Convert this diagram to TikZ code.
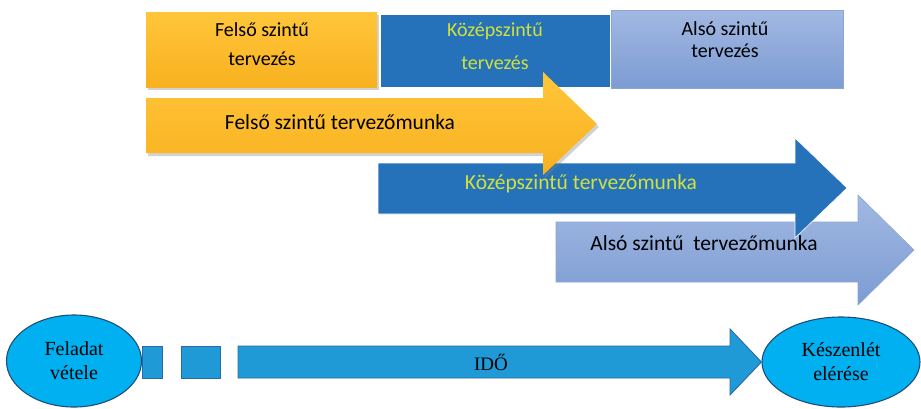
\documentclass[tikz,border=0pt]{standalone}
\usepackage{fontspec}
\setmainfont{Liberation Serif}
\newfontfamily\calfont{Carlito}
\usetikzlibrary{shadows,shapes.geometric}
\definecolor{goldTop}{HTML}{FFC63A}
\definecolor{goldBot}{HTML}{F8B11F}
\definecolor{midBlue}{HTML}{2672BA}
\definecolor{midText}{HTML}{D0E13C}
\definecolor{lowTop}{HTML}{A2B8E2}
\definecolor{lowBot}{HTML}{7C9CD3}
\definecolor{lowEdge}{HTML}{8AA6D8}
\definecolor{ellFill}{HTML}{00B0F0}
\definecolor{ellEdge}{HTML}{1F4E79}
\definecolor{timeFill}{HTML}{1F9AD6}
\definecolor{timeEdge}{HTML}{2A6AA6}
\tikzset{
  pBox/.style={line width=.6pt,inner sep=0pt,align=center},
  pGold/.style={pBox,draw=none,top color=goldTop,bottom color=goldBot,
        drop shadow={shadow xshift=2pt,shadow yshift=-3pt,opacity=.35}},
  pMid/.style={pBox,draw=white,fill=midBlue},
  pLow/.style={pBox,draw=lowEdge,top color=lowTop,bottom color=lowBot},
  pBoxText/.style={font=\calfont\fontsize{20}{29}\selectfont,align=center,inner sep=0pt},
  pArrowText/.style={font=\calfont\fontsize{21.5}{25}\selectfont,inner sep=0pt},
  pEll/.style={ellipse,draw=ellEdge,line width=1.1pt,fill=ellFill,inner sep=0pt,
        align=center,font=\fontsize{20}{24}\selectfont},
  pTime/.style={draw=timeEdge,line width=.9pt,fill=timeFill},
}
\begin{document}
\begin{tikzpicture}[x=1pt,y=-1pt]
\useasboundingbox[fill=white] (0,0) rectangle (921,408);

% planning levels
\node[pGold,minimum width=231pt,minimum height=75pt] (fBox) at (261.5,49.5) {};
\node[pMid,minimum width=230pt,minimum height=73pt] (kBox) at (495,50.5) {};
\node[pLow,minimum width=232pt,minimum height=78pt] (aBox) at (727,49) {};
\node[pBoxText] (fLabel) at (262,44) {Felső szintű\\tervezés};
\node[pBoxText,text=midText,font=\calfont\fontsize{20}{33}\selectfont] (kLabel) at (495,46) {Középszintű\\tervezés};
\node[pBoxText,font=\calfont\fontsize{20}{22}\selectfont] (aLabel) at (725,40) {Alsó szintű\\tervezés};

% work arrows, lowest first
\path[pLow] (556,222) -- (858,222) -- (858,195) -- (914,250) -- (858,305) -- (858,282) -- (556,282) -- cycle;
\node[pArrowText] (aWork) at (704,243) {Alsó szintű\ \ tervezőmunka};
\path[pMid] (378,163) -- (795,163) -- (795,138) -- (847,188) -- (795,238) -- (795,214) -- (378,214) -- cycle;
\node[pArrowText,text=midText] (kWork) at (581,184) {Középszintű tervezőmunka};
\path[pGold] (146,98) -- (543,98) -- (543,72) -- (597,124) -- (543,175) -- (543,153) -- (146,153) -- cycle;
\node[pArrowText] (fWork) at (340,122) {Felső szintű tervezőmunka};

% time line
\node[pTime,minimum width=20pt,minimum height=32pt,inner sep=0pt] (tickA) at (152,362) {};
\node[pTime,minimum width=39pt,minimum height=32pt,inner sep=0pt] (tickB) at (200.5,362) {};
\node[pEll,minimum width=135pt,minimum height=92pt] (start) at (74,361) {Feladat\\vétele};
\node[pEll,minimum width=158pt,minimum height=90pt] (done) at (841,362) {Készenlét\\elérése};
\path[pTime] (238,346) -- (730,346) -- (730,329) -- (done.west) -- (730,395) -- (730,378) -- (238,378) -- cycle;
\node[font=\fontsize{19}{22}\selectfont,inner sep=0pt] (time) at (491,362) {IDŐ};
\end{tikzpicture}
\end{document}
